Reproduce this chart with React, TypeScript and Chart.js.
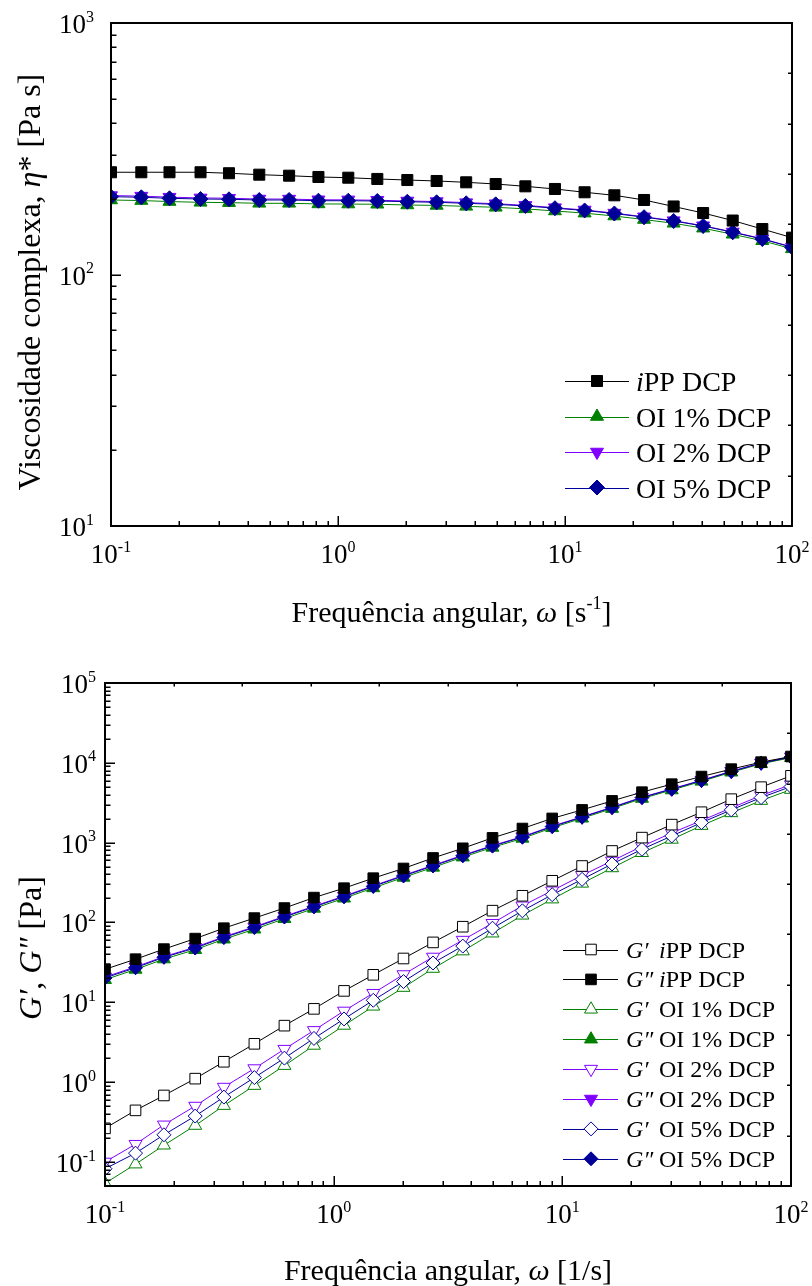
import React, { useEffect, useRef } from "react";
import { Chart, registerables } from "chart.js";
Chart.register(...registerables);

// ---------- DATA ----------
const freq = [0.1, 0.136, 0.181, 0.248, 0.331, 0.45, 0.609, 0.82, 1.11, 1.49, 2.02, 2.72, 3.67, 4.95, 6.69, 9.03, 12.2, 16.5, 22.3, 30.1, 40.6, 54.8, 74.0, 100];

// complex viscosity [Pa s]
const etaIPP = [255, 255, 255, 255, 252.7, 249.4, 247.1, 244.2, 242.6, 239.8, 237.5, 235.4, 232.6, 229.0, 224.2, 218.8, 212.3, 206.5, 197.8, 186.4, 175.6, 163.9, 151.6, 140.1];
const etaOI1 = [197.8, 196.8, 195.0, 193.6, 193.1, 191.9, 191.9, 190.8, 190.6, 190.2, 189.0, 188.2, 186.6, 185.0, 182.4, 178.9, 175.4, 170.8, 165.4, 159.8, 152.8, 144.5, 136.2, 126.5];
const etaOI2 = [206.0, 205.0, 203.0, 201.6, 201.0, 199.6, 199.5, 198.2, 198.0, 197.4, 196.0, 195.0, 193.1, 191.2, 188.3, 184.4, 180.5, 175.5, 169.6, 163.7, 156.3, 147.6, 138.8, 128.6];
const etaOI5 = [203.9, 202.8, 200.9, 199.6, 199.1, 197.8, 197.8, 196.5, 196.5, 196.0, 194.7, 193.7, 191.9, 190.1, 187.3, 183.5, 179.7, 174.8, 169.0, 163.2, 155.9, 147.2, 138.4, 128.3];

// storage (G') and loss (G'') moduli [Pa]
const gpIPP = [0.264, 0.443, 0.681, 1.106, 1.8, 3.02, 5.1, 8.28, 13.9, 22.1, 35.4, 56.3, 88.5, 140.6, 216, 333, 510, 787, 1156, 1682, 2406, 3506, 4955, 6870];
const gppIPP = [25.9, 34.7, 46.4, 62.8, 84.8, 113.5, 151.6, 205, 269, 359, 475, 643, 850, 1148, 1503, 2012, 2572, 3336, 4290, 5404, 6730, 8337, 10200, 11990];
const gpOI1 = [0.054, 0.0939, 0.162, 0.286, 0.508, 0.905, 1.61, 2.88, 5.13, 8.91, 15.3, 26.5, 43.8, 73.4, 123, 196, 309, 482, 747, 1097, 1634, 2359, 3365, 4622];
const gppOI1 = [19.2, 25.8, 34.8, 45.6, 61.7, 82.3, 111.5, 150, 201, 271, 367, 490, 658, 872, 1130, 1535, 2020, 2670, 3570, 4560, 5860, 7620, 9720, 11600];
const gpOI2 = [0.1, 0.167, 0.292, 0.502, 0.868, 1.48, 2.59, 4.45, 7.8, 13.0, 22.3, 37.0, 60.2, 97.9, 162, 250, 390, 590, 901, 1323, 1889, 2726, 3890, 5342];
const gppOI2 = [20.8, 27.8, 37.4, 49.0, 66.2, 88.3, 119.5, 160, 214, 288, 390, 520, 697, 920, 1190, 1610, 2110, 2780, 3710, 4720, 6050, 7840, 9980, 11900];
const gpOI5 = [0.0822, 0.129, 0.219, 0.376, 0.65, 1.14, 2.0, 3.53, 6.19, 10.6, 18.2, 31.1, 50.6, 84.8, 140, 223, 347, 541, 826, 1213, 1782, 2572, 3670, 5040];
const gppOI5 = [20.2, 27.1, 36.6, 47.9, 64.8, 86.5, 117, 157, 210, 283, 383, 511, 685, 906, 1172, 1588, 2083, 2748, 3670, 4677, 5995, 7779, 9910, 11800];

// tick labels
const xTickVals = [0.1, 1, 10, 100];
const xTickExps = ["-1", "0", "1", "2"];
const yTopTickVals = [10, 100, 1000];
const yTopTickExps = ["1", "2", "3"];
const yBotTickVals = [0.1, 1, 10, 100, 1000, 10000, 100000];
const yBotTickExps = ["-1", "0", "1", "2", "3", "4", "5"];

// secondary (mirror) tick positions
const topRightTicks = [15.85, 25.12, 39.81, 63.1, 100, 158.5, 251.2, 398.1, 631];
const botRightTicks = [23440, 5495, 1288, 302, 70.8, 16.6, 3.89, 0.912, 0.214];
const botTopTicks = [0.2, 0.398, 0.794, 1.585, 3.16, 6.31, 12.6, 25.1, 50.1];

// ---------- STYLE ----------
const FONT = '"Liberation Serif", "Times New Roman", Times, serif';
const BLACK = "#000000";
const GREEN = "#008000";
const PURPLE = "#8000ff";
const BLUE = "#000099";

type Seg = { t: string; i?: boolean; sup?: boolean };

function segFont(s: Seg, size: number) {
  const sz = s.sup ? Math.round(size * 0.6) : size;
  return `${s.i ? "italic " : ""}${sz}px ${FONT}`;
}
function richWidth(ctx: CanvasRenderingContext2D, segs: Seg[], size: number) {
  let w = 0;
  for (const s of segs) {
    ctx.font = segFont(s, size);
    w += ctx.measureText(s.t).width;
  }
  return w;
}
function drawRich(ctx: CanvasRenderingContext2D, segs: Seg[], x: number, y: number, size: number, align: "left" | "center" | "right") {
  const w = richWidth(ctx, segs, size);
  let cx = align === "left" ? x : align === "center" ? x - w / 2 : x - w;
  ctx.textAlign = "left";
  ctx.textBaseline = "alphabetic";
  ctx.fillStyle = "#000";
  for (const s of segs) {
    ctx.font = segFont(s, size);
    ctx.fillText(s.t, cx, s.sup ? y - size * 0.42 : y);
    cx += ctx.measureText(s.t).width;
  }
}
function drawMarker(ctx: CanvasRenderingContext2D, style: string, x: number, y: number, r: number, fill: string, stroke: string, rotation: number) {
  ctx.beginPath();
  if (style === "rect") {
    const s = Math.SQRT1_2 * r;
    ctx.rect(x - s, y - s, 2 * s, 2 * s);
  } else if (style === "rectRot") {
    ctx.moveTo(x - r, y);
    ctx.lineTo(x, y - r);
    ctx.lineTo(x + r, y);
    ctx.lineTo(x, y + r);
    ctx.closePath();
  } else {
    let a = (rotation * Math.PI) / 180;
    for (let k = 0; k < 3; k++) {
      const px = x + Math.sin(a) * r;
      const py = y - Math.cos(a) * r;
      if (k === 0) ctx.moveTo(px, py);
      else ctx.lineTo(px, py);
      a += (2 * Math.PI) / 3;
    }
    ctx.closePath();
  }
  ctx.fillStyle = fill;
  ctx.fill();
  ctx.lineWidth = 1;
  ctx.strokeStyle = stroke;
  ctx.stroke();
}

function logTicks(min: number, max: number) {
  const out: { v: number; major: boolean }[] = [];
  for (let d = Math.floor(Math.log10(min)); d <= Math.ceil(Math.log10(max)); d++) {
    for (let m = 1; m <= 9; m++) {
      const v = Number((m * Math.pow(10, d)).toPrecision(6));
      if (v >= min * 0.9999 && v <= max * 1.0001) out.push({ v, major: m === 1 });
    }
  }
  return out;
}

type LegendItem = { dataset: string; head?: Seg[]; body: Seg[] };
type DecorCfg = {
  xMin: number; xMax: number; yMin: number; yMax: number;
  rightTicks: number[]; topTicks: number[];
  yLabelVals: number[]; yLabelExps: string[]; yLabelRight: number;
  xTitle: Seg[]; xTitleBaseline: number;
  yTitle: Seg[]; yTitleX: number; yTitleCenter: number; yTitleSize: number;
  legend: { items: LegendItem[]; lineX0: number; lineX1: number; markerX: number; headX: number; bodyX: number; y0: number; dy: number; font: number; baseOff: number };
};

function decorPlugin(cfg: DecorCfg) {
  return {
    id: "decor",
    afterDraw(chart: any) {
      const ctx: CanvasRenderingContext2D = chart.ctx;
      const xs = chart.scales.x;
      const ys = chart.scales.y;
      const { left, right, top, bottom } = chart.chartArea;
      ctx.save();
      ctx.strokeStyle = "#000";
      ctx.lineCap = "butt";
      // major/minor ticks (inward)
      ctx.lineWidth = 1.5;
      ctx.beginPath();
      for (const t of logTicks(cfg.xMin, cfg.xMax)) {
        const px = Math.round(xs.getPixelForValue(t.v)) + 0.25;
        ctx.moveTo(px, bottom);
        ctx.lineTo(px, bottom - (t.major ? 10 : 5));
      }
      for (const t of logTicks(cfg.yMin, cfg.yMax)) {
        const py = Math.round(ys.getPixelForValue(t.v)) + 0.25;
        ctx.moveTo(left, py);
        ctx.lineTo(left + (t.major ? 10 : 5.5), py);
      }
      for (const v of cfg.rightTicks) {
        const py = Math.round(ys.getPixelForValue(v)) + 0.25;
        ctx.moveTo(right, py);
        ctx.lineTo(right - 4, py);
      }
      for (const v of cfg.topTicks) {
        const px = Math.round(xs.getPixelForValue(v)) + 0.25;
        ctx.moveTo(px, top);
        ctx.lineTo(px, top + 3.5);
      }
      ctx.stroke();
      // frame
      ctx.lineWidth = 2;
      ctx.strokeRect(left, top, right - left, bottom - top);

      // tick labels
      const tickSize = 27;
      xTickVals.forEach((v, k) => {
        drawRich(ctx, [{ t: "10" }, { t: xTickExps[k], sup: true }], xs.getPixelForValue(v), bottom + 37, tickSize, "center");
      });
      cfg.yLabelVals.forEach((v, k) => {
        drawRich(ctx, [{ t: "10" }, { t: cfg.yLabelExps[k], sup: true }], cfg.yLabelRight, ys.getPixelForValue(v) + 10, tickSize, "right");
      });

      // titles
      drawRich(ctx, cfg.xTitle, (left + right) / 2, cfg.xTitleBaseline, 30, "center");
      ctx.save();
      ctx.translate(cfg.yTitleX, cfg.yTitleCenter);
      ctx.rotate(-Math.PI / 2);
      drawRich(ctx, cfg.yTitle, 0, 0, cfg.yTitleSize, "center");
      ctx.restore();

      // legend
      const L = cfg.legend;
      L.items.forEach((it, k) => {
        const ds = chart.data.datasets.find((d: any) => d.label === it.dataset);
        if (!ds) return;
        const y = L.y0 + k * L.dy;
        ctx.beginPath();
        ctx.lineWidth = 1;
        ctx.strokeStyle = ds.borderColor;
        ctx.moveTo(L.lineX0, Math.round(y) + 0.5);
        ctx.lineTo(L.lineX1, Math.round(y) + 0.5);
        ctx.stroke();
        drawMarker(ctx, ds.pointStyle, L.markerX, y, ds.pointRadius, ds.pointBackgroundColor, ds.pointBorderColor, ds.pointRotation || 0);
        if (it.head) drawRich(ctx, it.head, L.headX, y + L.baseOff, L.font, "left");
        drawRich(ctx, it.body, L.bodyX, y + L.baseOff, L.font, "left");
      });
      ctx.restore();
    },
  };
}

type Series = { label: string; values: number[]; color: string; style: string; hollow: boolean; rot: number; r: number };

function makeDataset(s: Series) {
  return {
    label: s.label,
    data: freq.map((x, i) => ({ x, y: s.values[i] })),
    borderColor: s.color,
    backgroundColor: s.color,
    borderWidth: 1,
    pointStyle: s.style,
    pointRadius: s.r,
    pointHoverRadius: s.r,
    pointRotation: s.rot,
    pointBackgroundColor: s.hollow ? "#ffffff" : s.color,
    pointBorderColor: s.color,
    pointBorderWidth: 1,
    tension: 0,
    clip: 0,
  };
}

function makeConfig(series: Series[], yMin: number, yMax: number, padding: any, decor: DecorCfg): any {
  return {
    type: "line",
    data: { datasets: series.map(makeDataset) },
    options: {
      animation: false,
      responsive: false,
      devicePixelRatio: 1,
      events: [],
      layout: { padding },
      plugins: { legend: { display: false }, title: { display: false }, tooltip: { enabled: false } },
      scales: {
        x: { type: "logarithmic", min: 0.1, max: 100, display: false },
        y: { type: "logarithmic", min: yMin, max: yMax, display: false },
      },
    },
    plugins: [decorPlugin(decor)],
  };
}

// ---------- CHART 1: complex viscosity ----------
const H1 = 650;
const topSeries: Series[] = [
  { label: "iPP DCP", values: etaIPP, color: BLACK, style: "rect", hollow: false, rot: 0, r: 7.8 },
  { label: "OI 5% DCP", values: etaOI5, color: BLUE, style: "rectRot", hollow: false, rot: 0, r: 7.5 },
  { label: "OI 2% DCP", values: etaOI2, color: PURPLE, style: "triangle", hollow: false, rot: 180, r: 7.5 },
  { label: "OI 1% DCP", values: etaOI1, color: GREEN, style: "triangle", hollow: false, rot: 0, r: 7.5 },
];
const topDecor: DecorCfg = {
  xMin: 0.1, xMax: 100, yMin: 10, yMax: 1000,
  rightTicks: topRightTicks, topTicks: [],
  yLabelVals: yTopTickVals, yLabelExps: yTopTickExps, yLabelRight: 94,
  xTitle: [{ t: "Frequência angular, " }, { t: "ω", i: true }, { t: " [s" }, { t: "-1", sup: true }, { t: "]" }],
  xTitleBaseline: 622,
  yTitle: [{ t: "Viscosidade complexa, " }, { t: "η", i: true }, { t: "* [Pa s]" }],
  yTitleX: 40, yTitleCenter: 282, yTitleSize: 32,
  legend: {
    items: [
      { dataset: "iPP DCP", body: [{ t: "i", i: true }, { t: "PP DCP" }] },
      { dataset: "OI 1% DCP", body: [{ t: "OI 1% DCP" }] },
      { dataset: "OI 2% DCP", body: [{ t: "OI 2% DCP" }] },
      { dataset: "OI 5% DCP", body: [{ t: "OI 5% DCP" }] },
    ],
    lineX0: 565, lineX1: 629, markerX: 597, headX: 636, bodyX: 636, y0: 381, dy: 35.5, font: 28, baseOff: 10,
  },
};

// ---------- CHART 2: moduli ----------
const H2 = 636;
const botSeries: Series[] = [
  { label: "G' iPP DCP", values: gpIPP, color: BLACK, style: "rect", hollow: true, rot: 0, r: 7.5 },
  { label: "G'' iPP DCP", values: gppIPP, color: BLACK, style: "rect", hollow: false, rot: 0, r: 7.5 },
  { label: "G' OI 5% DCP", values: gpOI5, color: BLUE, style: "rectRot", hollow: true, rot: 0, r: 7 },
  { label: "G'' OI 5% DCP", values: gppOI5, color: BLUE, style: "rectRot", hollow: false, rot: 0, r: 7 },
  { label: "G' OI 2% DCP", values: gpOI2, color: PURPLE, style: "triangle", hollow: true, rot: 180, r: 7.5 },
  { label: "G'' OI 2% DCP", values: gppOI2, color: PURPLE, style: "triangle", hollow: false, rot: 180, r: 7.5 },
  { label: "G' OI 1% DCP", values: gpOI1, color: GREEN, style: "triangle", hollow: true, rot: 0, r: 7.5 },
  { label: "G'' OI 1% DCP", values: gppOI1, color: GREEN, style: "triangle", hollow: false, rot: 0, r: 7.5 },
];
const GP: Seg[] = [{ t: "G′", i: true }];
const GPP: Seg[] = [{ t: "G″", i: true }];
const botDecor: DecorCfg = {
  xMin: 0.1, xMax: 100, yMin: 0.05, yMax: 100000,
  rightTicks: botRightTicks, topTicks: botTopTicks,
  yLabelVals: yBotTickVals, yLabelExps: yBotTickExps, yLabelRight: 96,
  xTitle: [{ t: "Frequência angular, " }, { t: "ω", i: true }, { t: " [1/s]" }],
  xTitleBaseline: 1280 - H1,
  yTitle: [{ t: "G′", i: true }, { t: ", " }, { t: "G″", i: true }, { t: " [Pa]" }],
  yTitleX: 41, yTitleCenter: 948 - H1, yTitleSize: 32,
  legend: {
    items: [
      { dataset: "G' iPP DCP", head: GP, body: [{ t: "i", i: true }, { t: "PP DCP" }] },
      { dataset: "G'' iPP DCP", head: GPP, body: [{ t: "i", i: true }, { t: "PP DCP" }] },
      { dataset: "G' OI 1% DCP", head: GP, body: [{ t: "OI 1% DCP" }] },
      { dataset: "G'' OI 1% DCP", head: GPP, body: [{ t: "OI 1% DCP" }] },
      { dataset: "G' OI 2% DCP", head: GP, body: [{ t: "OI 2% DCP" }] },
      { dataset: "G'' OI 2% DCP", head: GPP, body: [{ t: "OI 2% DCP" }] },
      { dataset: "G' OI 5% DCP", head: GP, body: [{ t: "OI 5% DCP" }] },
      { dataset: "G'' OI 5% DCP", head: GPP, body: [{ t: "OI 5% DCP" }] },
    ],
    lineX0: 563, lineX1: 618, markerX: 591, headX: 626, bodyX: 659, y0: 949.5 - H1, dy: 29.9, font: 24, baseOff: 8,
  },
};

function ChartCanvas({ width, height, config }: { width: number; height: number; config: any }) {
  const ref = useRef<HTMLCanvasElement>(null);
  useEffect(() => {
    const chart = new Chart(ref.current as HTMLCanvasElement, config);
    return () => chart.destroy();
  }, []);
  return <canvas ref={ref} width={width} height={height} style={{ display: "block", width, height }} />;
}

export default function App() {
  return (
    <div style={{ position: "absolute", left: 0, top: 0, width: 812, height: 1286, background: "#fff" }}>
      <ChartCanvas width={812} height={H1} config={makeConfig(topSeries, 10, 1000, { left: 111, right: 20, top: 23, bottom: H1 - 526 }, topDecor)} />
      <ChartCanvas width={812} height={H2} config={makeConfig(botSeries, 0.05, 100000, { left: 105, right: 21, top: 683 - H1, bottom: H2 - (1186 - H1) }, botDecor)} />
    </div>
  );
}
